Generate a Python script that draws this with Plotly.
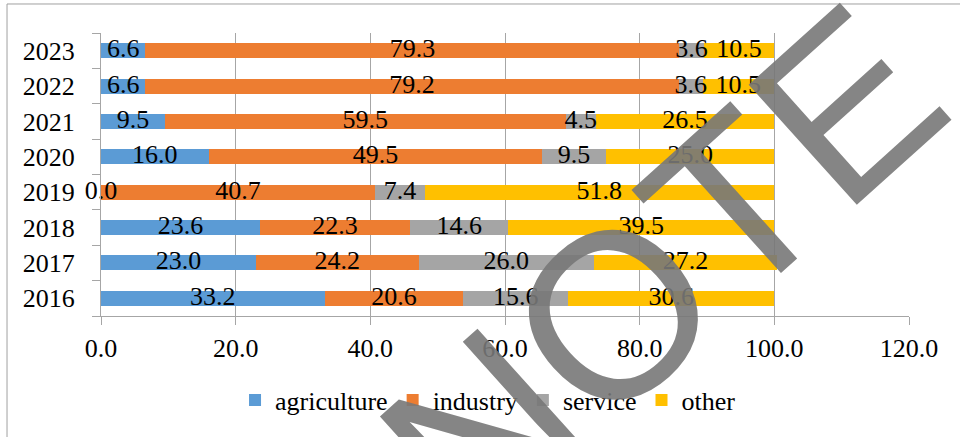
import plotly.graph_objects as go

years = ["2016", "2017", "2018", "2019", "2020", "2021", "2022", "2023"]
agriculture = [33.2, 23.0, 23.6, 0.0, 16.0, 9.5, 6.6, 6.6]
industry = [20.6, 24.2, 22.3, 40.7, 49.5, 59.5, 79.2, 79.3]
service = [15.6, 26.0, 14.6, 7.4, 9.5, 4.5, 3.6, 3.6]
other = [30.6, 27.2, 39.5, 51.8, 25.0, 26.5, 10.5, 10.5]
series_names = ["agriculture", "industry", "service", "other"]
colors = ["#5B9BD5", "#ED7D31", "#A5A5A5", "#FFC000"]
x_ticks = [0, 20, 40, 60, 80, 100, 120]

FONT = "Liberation Serif"
GRID = "#A6A6A6"

fig = go.Figure()
series = [agriculture, industry, service, other]
for name, vals, col in zip(series_names, series, colors):
    fig.add_trace(go.Bar(y=years, x=vals, name=name, orientation="h",
                         marker=dict(color=col, line=dict(width=0))))

# data labels at segment centres
base = [0.0] * len(years)
for vals in series:
    mids = [b + v / 2 for b, v in zip(base, vals)]
    fig.add_trace(go.Scatter(y=years, x=mids, mode="text",
                             text=[f"{v:.1f}" for v in vals],
                             textposition="middle center",
                             textfont=dict(family=FONT, size=26, color="black"),
                             showlegend=False, cliponaxis=False, hoverinfo="skip"))
    base = [b + v for b, v in zip(base, vals)]

fig.update_layout(
    width=960, height=437,
    margin=dict(l=101, r=51, t=33, b=121),
    barmode="stack", bargap=0.576,
    paper_bgcolor="white", plot_bgcolor="white",
    legend=dict(orientation="h", x=0.479, xanchor="center", y=-0.297, yanchor="middle",
                font=dict(family=FONT, size=26, color="black"), traceorder="normal",
                itemwidth=30, itemsizing="constant", bgcolor="rgba(0,0,0,0)"),
    xaxis=dict(range=[0, 120], tickvals=x_ticks, tickformat=".1f",
               showgrid=True, gridcolor=GRID, gridwidth=1,
               showline=True, linecolor=GRID, linewidth=1,
               ticks="outside", ticklen=8, tickcolor=GRID,
               ticklabelstandoff=1, zeroline=False,
               tickfont=dict(family=FONT, size=26, color="black")),
    yaxis=dict(type="category", categoryorder="array", categoryarray=years,
               showgrid=False, showline=True, linecolor=GRID, linewidth=1,
               ticks="outside", ticklen=8, tickcolor=GRID, tickson="boundaries",
               ticklabelstandoff=20, tickfont=dict(family=FONT, size=26, color="black")),
)

# outer chart frame
fig.add_shape(type="rect", xref="paper", yref="paper",
              x0=-0.1163, x1=1.3, y0=-0.6, y1=1.1025,
              line=dict(color="#A0A0A0", width=1), fillcolor="rgba(0,0,0,0)", layer="below")

# watermark
fig.add_annotation(text="NOTE", xref="paper", yref="paper", x=0.694, y=0.1625,
                   xanchor="center", yanchor="middle",
                   showarrow=False, textangle=-42,
                   font=dict(family="Liberation Sans", size=235,
                             color="rgba(120,120,120,0.9)"))

fig.write_html("out.html")
